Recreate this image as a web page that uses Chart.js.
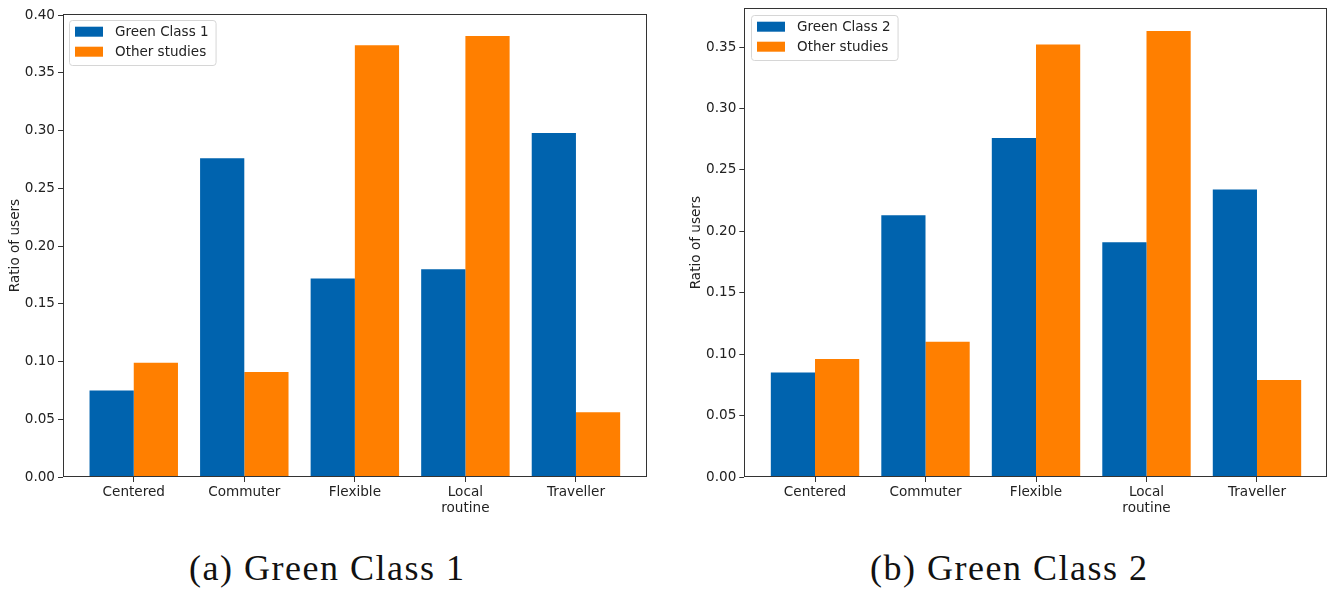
<!DOCTYPE html>
<html>
<head>
<meta charset="utf-8">
<title>Ratio of users per mobility profile</title>
<script src="https://cdn.jsdelivr.net/npm/chart.js@4.4.1/dist/chart.umd.min.js"></script>
<style>
  body { margin: 0; background: #fff; width: 1331px; height: 593px; position: relative; overflow: hidden; }
  canvas { position: absolute; top: 0; }
  #chartA { left: 0; }
  #chartB { left: 670px; }
  .caption {
    position: absolute; top: 550px; white-space: nowrap; line-height: 36px;
    font-family: "Liberation Serif", serif; font-size: 36px; letter-spacing: 1.5px; color: #111;
  }
</style>
</head>
<body>
<canvas id="chartA" width="660" height="530"></canvas>
<canvas id="chartB" width="661" height="530"></canvas>
<div class="caption" style="left:189px">(a) Green Class 1</div>
<div class="caption" style="left:870px">(b) Green Class 2</div>

<script>
/* --- datos --- */
const categories = ['Centered', 'Commuter', 'Flexible', 'Local routine', 'Traveller'];

const greenClass1   = [0.075, 0.276, 0.172, 0.180, 0.298];
const otherStudies1 = [0.099, 0.091, 0.374, 0.382, 0.056];

const greenClass2   = [0.085, 0.213, 0.276, 0.191, 0.234];
const otherStudies2 = [0.096, 0.110, 0.352, 0.363, 0.079];

const yTicks1 = [0, 0.05, 0.10, 0.15, 0.20, 0.25, 0.30, 0.35, 0.40];
const yTicks2 = [0, 0.05, 0.10, 0.15, 0.20, 0.25, 0.30, 0.35];
const yMax1 = 0.401;
const yMax2 = 0.3815;

const BLUE = '#0063ae';
const ORANGE = '#ff7f00';
const INK = '#222';
const FONT = 'DejaVu Sans';

/* --- marco + leyenda estilo matplotlib --- */
const frameLegend = {
  id: 'frameLegend',
  afterDatasetsDraw(chart, args, opts) {
    const { ctx, chartArea: a } = chart;
    ctx.save();

    // marco de ejes
    ctx.strokeStyle = '#333';
    ctx.lineWidth = 1;
    ctx.strokeRect(Math.round(a.left) + 0.5, Math.round(a.top) + 0.5,
                   Math.round(a.width) - 1, Math.round(a.bottom) - Math.round(a.top) - 1);

    // leyenda
    ctx.font = `13.5px "${FONT}"`;
    const items = chart.data.datasets;
    const textW = Math.max(...items.map(d => ctx.measureText(d.label).width));
    const bx = a.left + opts.offset, by = a.top + opts.offset;
    const bw = 46 + textW + 7, bh = 45;

    ctx.beginPath();
    ctx.roundRect(bx + 0.5, by + 0.5, bw, bh, 3);
    ctx.fillStyle = 'rgba(255,255,255,0.8)';
    ctx.fill();
    ctx.strokeStyle = '#d6d6d6';
    ctx.stroke();

    items.forEach((d, i) => {
      const rowY = by + 6.7 + i * 20;
      ctx.fillStyle = d.backgroundColor;
      ctx.fillRect(bx + 6, rowY, 28, 10);
      ctx.fillStyle = INK;
      ctx.textBaseline = 'middle';
      ctx.textAlign = 'left';
      ctx.fillText(d.label, bx + 46, rowY + 5.5);
    });
    ctx.restore();
  }
};

/* --- constructor de cada gráfica --- */
function makeChart(id, labelA, serieA, serieB, yTicks, yMax, cfg) {
  const canvas = document.getElementById(id);
  const toPoints = arr => arr.map((v, i) => ({ x: i, y: v }));

  return new Chart(canvas, {
    type: 'bar',
    data: {
      datasets: [
        { label: labelA, data: toPoints(serieA), backgroundColor: BLUE, borderWidth: 0 },
        { label: 'Other studies', data: toPoints(serieB), backgroundColor: ORANGE, borderWidth: 0 }
      ]
    },
    options: {
      responsive: false,
      animation: false,
      layout: { padding: { top: cfg.padTop, right: cfg.padRight, left: 0, bottom: 0 } },
      datasets: { bar: { categoryPercentage: 0.8, barPercentage: 1.0 } },
      plugins: {
        legend: { display: false },
        tooltip: { enabled: false },
        frameLegend: { offset: cfg.legendOffset }
      },
      scales: {
        x: {
          type: 'linear',
          min: -0.64,
          max: 4.64,
          offset: false,
          afterBuildTicks: s => { s.ticks = categories.map((c, i) => ({ value: i })); },
          afterFit: s => { s.height = 530 - 477; s.paddingLeft = 0; s.paddingRight = 0; },
          grid: { offset: false, drawOnChartArea: false, drawTicks: true, tickLength: 5, color: '#333' },
          border: { display: false },
          ticks: {
            color: INK,
            padding: 2,
            maxRotation: 0,
            autoSkip: false,
            font: { family: FONT, size: 13.6 },
            callback: v => {
              const c = categories[v];
              return c.includes(' ') ? c.split(' ') : c;
            }
          }
        },
        y: {
          min: 0,
          max: yMax,
          afterBuildTicks: s => { s.ticks = yTicks.map(v => ({ value: v })); },
          afterFit: s => { s.width = cfg.yWidth; s.paddingTop = 0; s.paddingBottom = 0; },
          grid: { drawOnChartArea: false, drawTicks: true, tickLength: 5, color: '#333' },
          border: { display: false },
          title: {
            display: true,
            text: 'Ratio of users',
            color: INK,
            padding: { top: cfg.titlePad, bottom: 0 },
            font: { family: FONT, size: 13.6 }
          },
          ticks: {
            color: INK,
            padding: 3,
            font: { family: FONT, size: 13.6 },
            callback: v => v.toFixed(2)
          }
        }
      }
    },
    plugins: [frameLegend]
  });
}

window.addEventListener('load', () => {
  makeChart('chartA', 'Green Class 1', greenClass1, otherStudies1, yTicks1, yMax1,
            { padTop: 14, padRight: 13.3, yWidth: 63, titlePad: 7, legendOffset: 6 });
  makeChart('chartB', 'Green Class 2', greenClass2, otherStudies2, yTicks2, yMax2,
            { padTop: 8.3, padRight: 3.3, yWidth: 74.3, titlePad: 18, legendOffset: 6.7 });
});
</script>
</body>
</html>
